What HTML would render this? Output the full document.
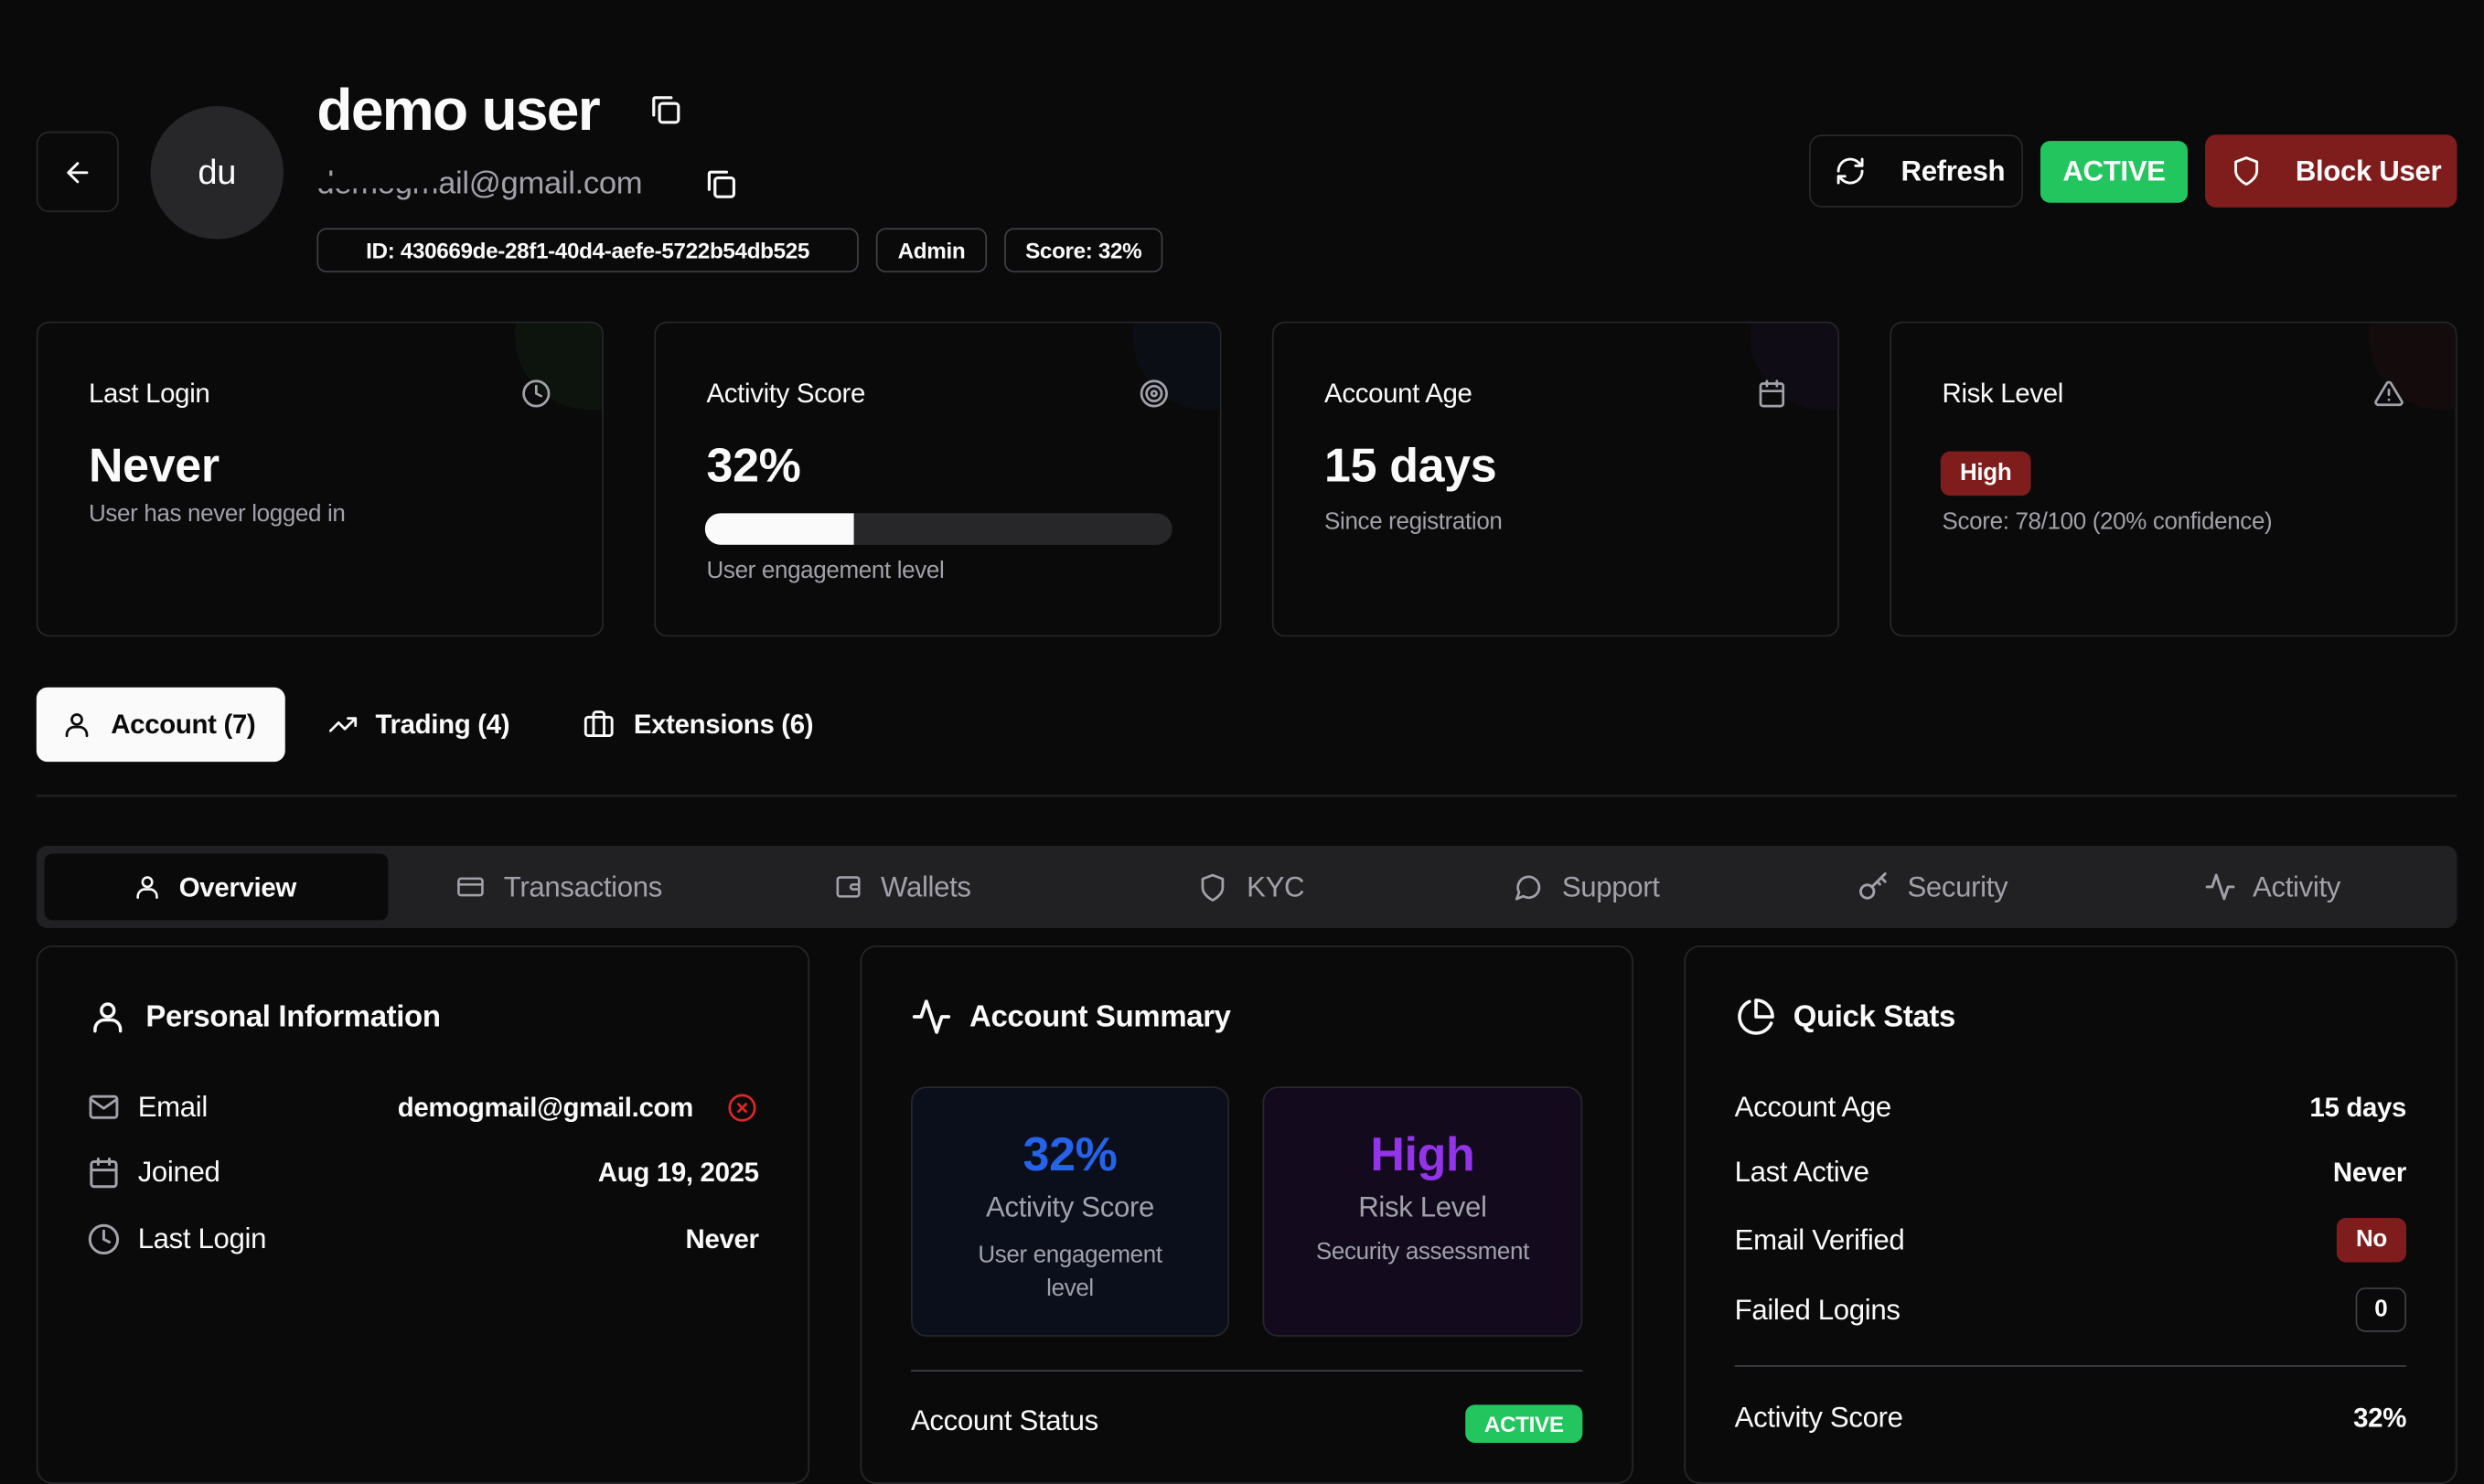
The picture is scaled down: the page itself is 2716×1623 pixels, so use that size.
<!DOCTYPE html>
<html><head><meta charset="utf-8">
<style>
html,body{margin:0;padding:0;background:#0a0a0b;overflow:hidden;width:2716px;height:1557px}
#r{position:absolute;left:0;top:0;width:1568px;height:899px;transform:scale(1.7321);transform-origin:0 0;font-family:"Liberation Sans",sans-serif;color:#fafafa;letter-spacing:-0.2px}
.a{position:absolute;white-space:nowrap}
.box{position:absolute;border:1px solid #27272a;border-radius:8px;box-sizing:border-box;overflow:hidden}
.badge{position:absolute;border:1px solid #3f3f46;border-radius:6px;box-sizing:border-box;font-size:14px;font-weight:bold;display:flex;align-items:center;justify-content:center;height:28px;top:144px}
.gray{color:#a1a1aa}
svg{position:absolute;fill:none;stroke:currentColor;stroke-width:2;stroke-linecap:round;stroke-linejoin:round}
.ct{font-size:17px;top:239px}
.cv{font-size:30px;font-weight:bold;top:278px}
.cs{font-size:15px;color:#a1a1aa}
.st{font-size:18px;color:#a1a1aa;top:550px}
.row{font-size:18px}
</style></head><body><div id="r">
<!-- header -->
<div class="box" style="left:23px;top:83px;width:52px;height:51px"></div>
<svg style="left:39px;top:99px" width="20" height="20" viewBox="0 0 24 24"><path d="M19 12H5M12 19l-7-7 7-7"/></svg>
<div class="a" style="left:95px;top:67px;width:84px;height:84px;border-radius:50%;background:#27272a"></div>
<div class="a" style="left:95px;top:96px;width:84px;text-align:center;font-size:22px">du</div>
<div class="a" style="left:200px;top:49px;font-size:37px;font-weight:bold;letter-spacing:-1px">demo user</div>
<svg style="left:409px;top:58px" width="22" height="22" viewBox="0 0 24 24"><rect x="8" y="8" width="13" height="13" rx="2"/><path d="M4 16V5a1 1 0 0 1 1-1h11"/></svg>
<div class="a gray" style="left:200px;top:105px;font-size:20px">demogmail@gmail.com</div>
<div class="a" style="left:198px;top:111px;width:80px;height:8px;background:#0a0a0b"></div>
<svg style="left:444px;top:105px" width="22" height="22" viewBox="0 0 24 24"><rect x="8" y="8" width="13" height="13" rx="2"/><path d="M4 16V5a1 1 0 0 1 1-1h11"/></svg>
<div class="badge" style="left:200px;width:342px">ID: 430669de-28f1-40d4-aefe-5722b54db525</div>
<div class="badge" style="left:553px;width:70px">Admin</div>
<div class="badge" style="left:634px;width:100px">Score: 32%</div>
<div class="box" style="left:1142px;top:85px;width:135px;height:46px;border-color:#27272a"></div>
<svg style="left:1158px;top:98px" width="20" height="20" viewBox="0 0 24 24"><path d="M3 12a9 9 0 0 1 15-6.7L21 8M21 3v5h-5M21 12a9 9 0 0 1-15 6.7L3 16M3 21v-5h5"/></svg>
<div class="a" style="left:1200px;top:98px;font-size:18px;font-weight:bold">Refresh</div>
<div class="a" style="left:1288px;top:89px;width:93px;height:39px;background:#22c55e;border-radius:6px;font-size:18px;font-weight:bold;text-align:center;line-height:39px">ACTIVE</div>
<div class="a" style="left:1392px;top:85px;width:159px;height:46px;background:#7f1d1d;border-radius:7px"></div>
<svg style="left:1408px;top:98px" width="20" height="20" viewBox="0 0 24 24"><path d="M12 22s8-4 8-10V5l-8-3-8 3v7c0 6 8 10 8 10z"/></svg>
<div class="a" style="left:1449px;top:98px;font-size:18px;font-weight:bold">Block User</div>
<!-- cards -->
<div class="box" style="left:23px;top:203px;width:358px;height:199px"><div class="a" style="right:-40px;top:-40px;width:95px;height:95px;border-radius:50%;background:#0c140d"></div></div>
<div class="box" style="left:413px;top:203px;width:358px;height:199px"><div class="a" style="right:-40px;top:-40px;width:95px;height:95px;border-radius:50%;background:#0c0e16"></div></div>
<div class="box" style="left:803px;top:203px;width:358px;height:199px"><div class="a" style="right:-40px;top:-40px;width:95px;height:95px;border-radius:50%;background:#100c16"></div></div>
<div class="box" style="left:1193px;top:203px;width:358px;height:199px"><div class="a" style="right:-40px;top:-40px;width:95px;height:95px;border-radius:50%;background:#140b0c"></div></div>
<div class="a ct" style="left:56px">Last Login</div>
<svg style="left:329px;top:239px;color:#a1a1aa" width="19" height="19" viewBox="0 0 24 24"><circle cx="12" cy="12" r="10"/><path d="M12 6v6l4 2"/></svg>
<div class="a cv" style="left:56px">Never</div>
<div class="a cs" style="left:56px;top:316px">User has never logged in</div>
<div class="a ct" style="left:446px">Activity Score</div>
<svg style="left:719px;top:239px;color:#a1a1aa" width="19" height="19" viewBox="0 0 24 24"><circle cx="12" cy="12" r="10"/><circle cx="12" cy="12" r="6"/><circle cx="12" cy="12" r="2"/></svg>
<div class="a cv" style="left:446px">32%</div>
<div class="a" style="left:445px;top:324px;width:295px;height:20px;border-radius:10px;background:#27272a;overflow:hidden"><div style="width:94px;height:20px;background:#fafafa"></div></div>
<div class="a cs" style="left:446px;top:352px">User engagement level</div>
<div class="a ct" style="left:836px">Account Age</div>
<svg style="left:1109px;top:239px;color:#a1a1aa" width="19" height="19" viewBox="0 0 24 24"><rect x="3" y="4" width="18" height="18" rx="2"/><path d="M16 2v4M8 2v4M3 10h18"/></svg>
<div class="a cv" style="left:836px">15 days</div>
<div class="a cs" style="left:836px;top:321px">Since registration</div>
<div class="a ct" style="left:1226px">Risk Level</div>
<svg style="left:1498px;top:239px;color:#a1a1aa" width="20" height="19" viewBox="0 0 24 24"><path d="M10.3 3.9 1.8 18a2 2 0 0 0 1.7 3h17a2 2 0 0 0 1.7-3L13.7 3.9a2 2 0 0 0-3.4 0zM12 9v4M12 17h.01"/></svg>
<div class="a" style="left:1225px;top:285px;width:57px;height:28px;background:#7f1d1d;border-radius:6px;font-size:15px;font-weight:bold;text-align:center;line-height:28px">High</div>
<div class="a cs" style="left:1226px;top:321px">Score: 78/100 (20% confidence)</div>
<!-- tabs -->
<div class="a" style="left:23px;top:434px;width:157px;height:47px;background:#fafafa;border-radius:7px"></div>
<svg style="left:39px;top:448px;color:#0a0a0b" width="19" height="19" viewBox="0 0 24 24"><circle cx="12" cy="8" r="4"/><path d="M4 21v-1a6 6 0 0 1 6-6h4a6 6 0 0 1 6 6v1"/></svg>
<div class="a" style="left:70px;top:448px;font-size:17px;font-weight:bold;color:#0a0a0b">Account (7)</div>
<svg style="left:206px;top:448px" width="21" height="19" viewBox="0 0 24 24"><path d="M22 7l-8.5 8.5-5-5L2 17M16 7h6v6"/></svg>
<div class="a" style="left:237px;top:448px;font-size:17px;font-weight:bold">Trading (4)</div>
<svg style="left:368px;top:447px" width="20" height="20" viewBox="0 0 24 24"><rect x="2" y="7" width="20" height="14" rx="2"/><path d="M16 21V5a2 2 0 0 0-2-2h-4a2 2 0 0 0-2 2v16"/></svg>
<div class="a" style="left:400px;top:448px;font-size:17px;font-weight:bold">Extensions (6)</div>
<div class="a" style="left:23px;top:502px;width:1528px;height:1px;background:#27272a"></div>
<!-- subtabs -->
<div class="a" style="left:23px;top:534px;width:1528px;height:52px;background:#212124;border-radius:7px"></div>
<div class="a" style="left:28px;top:539px;width:217px;height:42px;background:#0a0a0b;border-radius:5px"></div>
<svg style="left:84px;top:551px" width="18" height="18" viewBox="0 0 24 24"><circle cx="12" cy="8" r="4"/><path d="M4 21v-1a6 6 0 0 1 6-6h4a6 6 0 0 1 6 6v1"/></svg>
<div class="a st" style="left:113px;color:#fafafa;font-weight:bold;font-size:17px;top:551px">Overview</div>
<svg style="left:287px;top:551px;color:#a1a1aa" width="20" height="18" viewBox="0 0 24 24"><rect x="2" y="5" width="20" height="14" rx="2"/><path d="M2 10h20"/></svg>
<div class="a st" style="left:318px">Transactions</div>
<svg style="left:526px;top:551px;color:#a1a1aa" width="19" height="18" viewBox="0 0 24 24"><rect x="3" y="4" width="18" height="16" rx="2"/><path d="M21 10h-5a2 2 0 0 0 0 4h5"/></svg>
<div class="a st" style="left:556px">Wallets</div>
<svg style="left:756px;top:551px;color:#a1a1aa" width="19" height="19" viewBox="0 0 24 24"><path d="M12 22s8-4 8-10V5l-8-3-8 3v7c0 6 8 10 8 10z"/></svg>
<div class="a st" style="left:787px">KYC</div>
<svg style="left:955px;top:551px;color:#a1a1aa" width="19" height="19" viewBox="0 0 24 24"><path d="M21 11.5a8.4 8.4 0 0 1-12.6 7.3L3 21l2-5.2A8.5 8.5 0 1 1 21 11.5z"/></svg>
<div class="a st" style="left:986px">Support</div>
<svg style="left:1172px;top:550px;color:#a1a1aa" width="21" height="20" viewBox="0 0 24 24"><circle cx="7.5" cy="15.5" r="5"/><path d="M11 12l10-10M18 5l3 3M15 8l2 2"/></svg>
<div class="a st" style="left:1204px">Security</div>
<svg style="left:1391px;top:550px;color:#a1a1aa" width="21" height="20" viewBox="0 0 24 24"><path d="M22 12h-4l-3 9L9 3l-3 9H2"/></svg>
<div class="a st" style="left:1422px">Activity</div>
<!-- panels -->
<div class="box" style="left:23px;top:597px;width:488px;height:340px;border-radius:10px"></div>
<div class="box" style="left:543px;top:597px;width:488px;height:340px;border-radius:10px"></div>
<div class="box" style="left:1063px;top:597px;width:488px;height:340px;border-radius:10px"></div>
<svg style="left:56px;top:630px" width="24" height="24" viewBox="0 0 24 24"><circle cx="12" cy="8" r="4"/><path d="M4 21v-1a6 6 0 0 1 6-6h4a6 6 0 0 1 6 6v1"/></svg>
<div class="a" style="left:92px;top:632px;font-size:19px;font-weight:bold">Personal Information</div>
<svg style="left:55px;top:689px;color:#a1a1aa" width="21" height="20" viewBox="0 0 24 24"><rect x="2" y="4" width="20" height="16" rx="2"/><path d="M22 6l-10 7L2 6"/></svg>
<div class="a row" style="left:87px;top:689px">Email</div>
<div class="a row" style="left:251px;top:690px;font-weight:bold;font-size:17px">demogmail@gmail.com</div>
<svg style="left:459px;top:690px;color:#dc2626" width="19" height="19" viewBox="0 0 24 24"><circle cx="12" cy="12" r="10"/><path d="M15 9l-6 6M9 9l6 6"/></svg>
<svg style="left:55px;top:730px;color:#a1a1aa" width="21" height="21" viewBox="0 0 24 24"><rect x="3" y="4" width="18" height="18" rx="2"/><path d="M16 2v4M8 2v4M3 10h18"/></svg>
<div class="a row" style="left:87px;top:730px">Joined</div>
<div class="a row" style="right:1089px;top:731px;font-weight:bold;font-size:17px">Aug 19, 2025</div>
<svg style="left:55px;top:772px;color:#a1a1aa" width="21" height="21" viewBox="0 0 24 24"><circle cx="12" cy="12" r="10"/><path d="M12 6v6l4 2"/></svg>
<div class="a row" style="left:87px;top:772px">Last Login</div>
<div class="a row" style="right:1089px;top:773px;font-weight:bold;font-size:17px">Never</div>

<svg style="left:575px;top:629px" width="26" height="26" viewBox="0 0 24 24"><path d="M22 12h-4l-3 9L9 3l-3 9H2"/></svg>
<div class="a" style="left:612px;top:632px;font-size:19px;font-weight:bold">Account Summary</div>
<div class="box" style="left:575px;top:686px;width:201px;height:158px;background:#0b0f1c;border-radius:10px"></div>
<div class="a" style="left:575px;top:713px;width:201px;text-align:center;font-size:30px;font-weight:bold;color:#2563eb">32%</div>
<div class="a gray" style="left:575px;top:752px;width:201px;text-align:center;font-size:18px">Activity Score</div>
<div class="a gray" style="left:605px;top:782px;width:141px;text-align:center;font-size:15px;white-space:normal;line-height:21px">User engagement level</div>
<div class="box" style="left:797px;top:686px;width:202px;height:158px;background:#130a1e;border-radius:10px"></div>
<div class="a" style="left:797px;top:713px;width:202px;text-align:center;font-size:30px;font-weight:bold;color:#9333ea">High</div>
<div class="a gray" style="left:797px;top:752px;width:202px;text-align:center;font-size:18px">Risk Level</div>
<div class="a gray" style="left:797px;top:782px;width:202px;text-align:center;font-size:15px">Security assessment</div>
<div class="a" style="left:575px;top:865px;width:424px;height:1px;background:#3f3f46"></div>
<div class="a" style="left:575px;top:887px;font-size:18px">Account Status</div>
<div class="a" style="left:925px;top:887px;width:74px;height:24px;background:#22c55e;border-radius:6px;font-size:14px;font-weight:bold;text-align:center;line-height:24px">ACTIVE</div>

<svg style="left:1096px;top:629px" width="25" height="26" viewBox="0 0 24 24"><path d="M21.2 15.9A10 10 0 1 1 8 2.8"/><path d="M22 12A10 10 0 0 0 12 2v10z"/></svg>
<div class="a" style="left:1132px;top:632px;font-size:19px;font-weight:bold">Quick Stats</div>
<div class="a row" style="left:1095px;top:689px">Account Age</div>
<div class="a row" style="right:49px;top:690px;font-weight:bold;font-size:17px">15 days</div>
<div class="a row" style="left:1095px;top:730px">Last Active</div>
<div class="a row" style="right:49px;top:731px;font-weight:bold;font-size:17px">Never</div>
<div class="a row" style="left:1095px;top:773px">Email Verified</div>
<div class="a" style="left:1475px;top:769px;width:44px;height:28px;background:#7f1d1d;border-radius:6px;font-size:15px;font-weight:bold;text-align:center;line-height:28px">No</div>
<div class="a row" style="left:1095px;top:817px">Failed Logins</div>
<div class="a" style="left:1487px;top:813px;width:32px;height:28px;border:1px solid #3f3f46;box-sizing:border-box;border-radius:6px;font-size:15px;font-weight:bold;text-align:center;line-height:26px">0</div>
<div class="a" style="left:1095px;top:862px;width:424px;height:1px;background:#3f3f46"></div>
<div class="a row" style="left:1095px;top:885px">Activity Score</div>
<div class="a row" style="right:49px;top:886px;font-weight:bold;font-size:17px">32%</div>
</div></body></html>
